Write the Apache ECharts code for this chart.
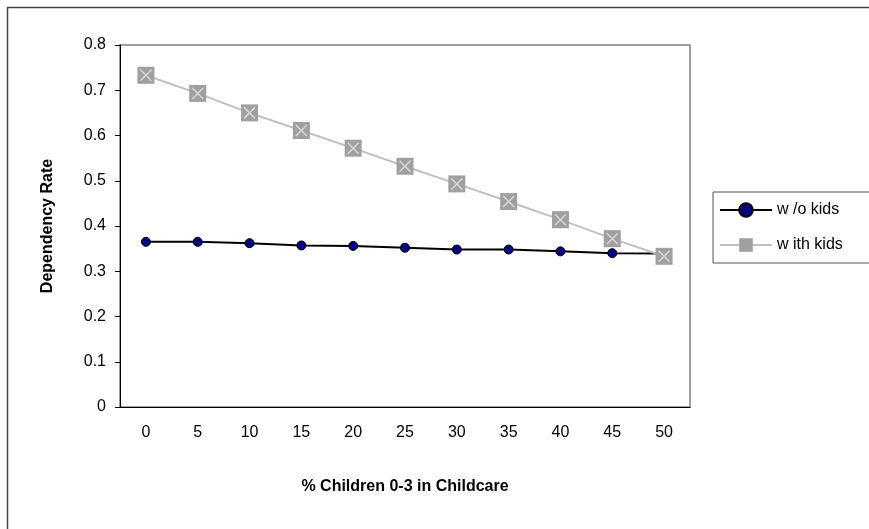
<!DOCTYPE html>
<html><head><meta charset="utf-8">
<script src="https://cdn.jsdelivr.net/npm/echarts@6/dist/echarts.min.js"></script>
<style>html,body{margin:0;padding:0;background:#fff}#c{width:869px;height:529px}</style>
</head><body><div id="c"></div>
<script>
let categories = ['0','5','10','15','20','25','30','35','40','45','50']
let withoutKids = [0.365,0.365,0.362,0.357,0.356,0.352,0.348,0.348,0.344,0.340,0.339]
let withKids = [0.733,0.693,0.650,0.611,0.572,0.532,0.493,0.454,0.414,0.372,0.333]

let xPath = 'path://M0,0L10,10M10,0L0,10'
let chart = echarts.init(document.getElementById('c'))
let option = {
    animation: false,
    textStyle: { fontFamily: 'Arial, Liberation Sans' },
    graphic: [{
        type: 'rect', left: 5, top: 5, silent: true,
        shape: { width: 900, height: 600 },
        style: { fill: 'none', stroke: '#444', lineWidth: 1.5 }
    }],
    grid: { left: 120, top: 45, right: 179, bottom: 122, show: true, borderColor: '#808080', borderWidth: 1.5, outerBoundsMode: 'none' },
    legend: {
        data: ['w /o kids', 'w ith kids'],
        orient: 'vertical', left: 713, top: 192, itemWidth: 52, itemHeight: 17, itemGap: 19,
        borderColor: '#555', borderWidth: 1, borderRadius: 0, padding: [10, 40, 10, 6],
        textStyle: { fontSize: 16, color: '#000' }
    },
    xAxis: {
        type: 'category', data: categories, boundaryGap: true,
        name: '% Children 0-3 in Childcare', nameLocation: 'middle', nameGap: 72,
        nameTextStyle: { fontSize: 16, fontWeight: 'bold', color: '#000' },
        axisLine: { lineStyle: { color: '#000' } },
        axisTick: { inside: false, length: 5, lineStyle: { color: '#000' } },
        axisLabel: { fontSize: 16, color: '#000', margin: 18 }
    },
    yAxis: {
        type: 'value', min: 0, max: 0.8, interval: 0.1,
        name: 'Dependency Rate', nameLocation: 'middle', nameGap: 64,
        nameTextStyle: { fontSize: 16, fontWeight: 'bold', color: '#000' },
        axisLine: { show: true, lineStyle: { color: '#000' } },
        axisTick: { show: true, length: 5, lineStyle: { color: '#000' } },
        splitLine: { show: false },
        axisLabel: { fontSize: 16, color: '#000', margin: 14, formatter: v => String(+v.toFixed(1)) }
    },
    series: [
        {
            name: 'w ith kids', type: 'line', data: withKids,
            symbol: 'rect', symbolSize: 17,
            lineStyle: { color: '#c0c0c0', width: 2 },
            itemStyle: { color: '#a0a0a0' }
        },
        {
            name: 'xmarks', type: 'line', data: withKids,
            symbol: xPath, symbolSize: 11, lineStyle: { opacity: 0 },
            itemStyle: { color: 'none', borderColor: '#d8d8d8', borderWidth: 1.5 }, z: 3
        },
        {
            name: 'w /o kids', type: 'line', data: withoutKids,
            symbol: 'circle', symbolSize: 9,
            lineStyle: { color: '#000', width: 2 },
            itemStyle: { color: '#000080', borderColor: '#000', borderWidth: 1 }, z: 1
        }
    ]
}
chart.setOption(option)
</script></body></html>
